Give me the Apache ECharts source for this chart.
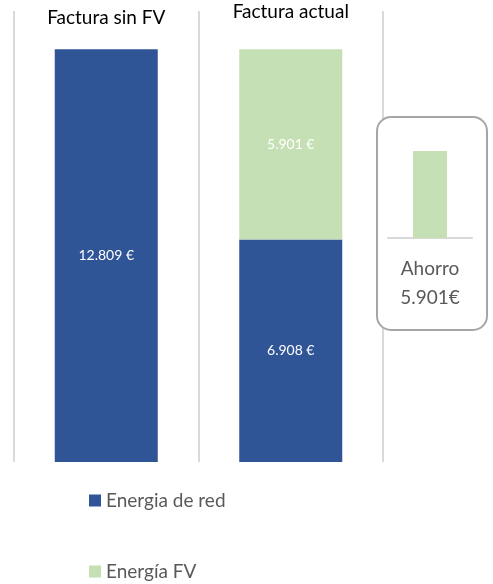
<!DOCTYPE html>
<html>
<head>
<meta charset="utf-8">
<script src="https://cdn.jsdelivr.net/npm/echarts@6/dist/echarts.min.js"></script>
<style>
  html, body { margin: 0; padding: 0; background: #fff; }
  #chart { width: 493px; height: 584px; }
</style>
</head>
<body>
<div id="chart"></div>
<script>
var categories = ['Factura sin FV', 'Factura actual'];
var redValues = [12809, 6908];
var fvValues = [0, 5901];
var savingLabel = ['Ahorro'];
var savingValues = [5901];

function fmt(n) {
  return String(n).replace(/\B(?=(\d{3})+(?!\d))/g, '.');
}

var font = 'Lato';
var legendText = { fontFamily: font, fontSize: 19, color: '#595959' };
var myChart = echarts.init(document.getElementById('chart'));

var option = {
  animation: false,
  textStyle: { fontFamily: font },
  legend: [{
    data: ['Energia de red'],
    left: 84,
    top: 486,
    itemWidth: 12,
    itemHeight: 12,
    icon: 'rect',
    textStyle: legendText
  }, {
    data: ['Energía FV'],
    left: 84,
    top: 557,
    itemWidth: 12,
    itemHeight: 12,
    icon: 'rect',
    textStyle: legendText
  }],
  graphic: [{
    id: 'box',
    type: 'rect',
    z: 1,
    shape: { x: 377, y: 117, width: 110, height: 213, r: 14 },
    style: { fill: '#fff', stroke: '#a6a6a6', lineWidth: 2 }
  }],
  grid: [
    { left: 14, right: 110, top: 11, bottom: 122 },
    { left: 388, width: 84, top: 151, height: 87 }
  ],
  xAxis: [{
    type: 'category',
    data: categories,
    axisLine: { show: false },
    axisTick: { show: false },
    axisLabel: { show: false },
    splitLine: { show: true, lineStyle: { color: '#d9d9d9', width: 2 } }
  }, {
    type: 'category',
    gridIndex: 1,
    data: savingLabel,
    z: 3,
    axisLine: { lineStyle: { color: '#d9d9d9', width: 2 } },
    axisTick: { show: false },
    axisLabel: {
      margin: 16,
      lineHeight: 29,
      fontFamily: font,
      fontSize: 19,
      color: '#595959',
      formatter: function (v) { return v + '\n' + fmt(savingValues[0]) + '€'; }
    }
  }],
  yAxis: [
    { type: 'value', min: 0, max: 14000, show: false },
    { type: 'value', gridIndex: 1, min: 0, max: savingValues[0], show: false }
  ],
  series: [{
    name: 'Energia de red',
    type: 'bar',
    stack: 'total',
    barWidth: 103,
    itemStyle: { color: '#2f5597' },
    label: {
      show: true, position: 'inside', color: '#fff', fontSize: 14, fontFamily: font,
      formatter: function (p) { return fmt(p.value) + ' €'; }
    },
    data: redValues
  }, {
    name: 'Energía FV',
    type: 'bar',
    stack: 'total',
    barWidth: 103,
    itemStyle: { color: '#c5e0b4' },
    label: {
      show: true, position: 'inside', color: '#fff', fontSize: 14, fontFamily: font,
      formatter: function (p) { return p.value ? fmt(p.value) + ' €' : ''; }
    },
    data: fvValues
  }, {
    name: 'Ahorro',
    type: 'bar',
    xAxisIndex: 1,
    yAxisIndex: 1,
    barWidth: 34,
    z: 4,
    itemStyle: { color: '#c5e0b4' },
    data: savingValues
  }]
};
myChart.setOption(option);

// category titles above the stacks, centred on each category through the x axis
var titleY = [18, 12];
var titles = categories.map(function (c, i) {
  var x = myChart.convertToPixel({ xAxisIndex: 0 }, c);
  return {
    type: 'text',
    z: 5,
    x: x,
    y: titleY[i],
    style: {
      text: c,
      fontFamily: font,
      fontSize: 19,
      fill: '#000',
      align: 'center',
      verticalAlign: 'middle'
    }
  };
});
myChart.setOption({ graphic: option.graphic.concat(titles) });
</script>
</body>
</html>
